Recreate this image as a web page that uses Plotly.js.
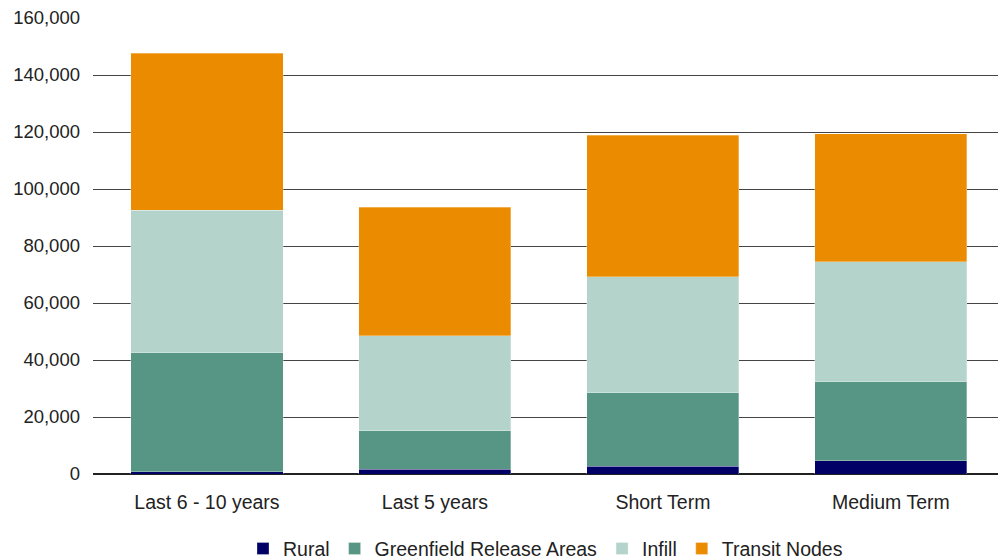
<!DOCTYPE html>
<html>
<head>
<meta charset="utf-8">
<script src="https://cdn.plot.ly/plotly-3.0.1.min.js"></script>
<style>
  html, body { margin: 0; padding: 0; background: #ffffff; }
  #chart { width: 998px; height: 560px; }
</style>
</head>
<body>
<div id="chart"></div>
<script>
// Dwelling supply by period and location type
const periods = ["Last 6 - 10 years", "Last 5 years", "Short Term", "Medium Term"];
const rural = [800, 1750, 2700, 4600];
const greenfield = [41800, 13350, 25800, 27700];
const infill = [50000, 33400, 40700, 42100];
const transitNodes = [55000, 45100, 49700, 45000];

const seriesNames = ["Rural", "Greenfield Release Areas", "Infill", "Transit Nodes"];
const seriesColors = ["#000066", "#579684", "#b4d3ca", "#eb8c00"];
const seriesValues = [rural, greenfield, infill, transitNodes];

const traces = seriesValues.map((vals, i) => ({
  type: "bar",
  name: seriesNames[i],
  x: periods,
  y: vals,
  marker: { color: seriesColors[i], line: { color: "rgba(255,255,255,0.6)", width: 0.5 } },
  hoverinfo: "x+y+name"
}));

const family = "Liberation Sans, Arial, sans-serif";
const textColor = "#222222";
const catFont = { family: family, size: 19.5, color: textColor };
const valueFont = { family: family, size: 18.5, color: textColor };

const layout = {
  width: 998,
  height: 560,
  barmode: "stack",
  bargap: 0.333,
  margin: { l: 93, r: 0, t: 18, b: 86, autoexpand: false },
  paper_bgcolor: "#ffffff",
  plot_bgcolor: "#ffffff",
  font: catFont,
  showlegend: true,
  legend: {
    orientation: "h",
    x: 0.5, xanchor: "center", xref: "paper",
    y: 0.02, yanchor: "middle", yref: "container",
    font: catFont,
    itemwidth: 30,
    traceorder: "normal"
  },
  xaxis: {
    type: "category",
    range: [-0.5, 3.47],
    showgrid: false,
    showline: false,
    ticks: "",
    ticklabelstandoff: 14,
    tickfont: catFont,
    fixedrange: true
  },
  yaxis: {
    range: [0, 160000],
    dtick: 20000,
    tickformat: ",d",
    showgrid: true,
    gridcolor: "#444444",
    gridwidth: 1,
    zeroline: true,
    zerolinecolor: "#222222",
    zerolinewidth: 1.5,
    showline: false,
    ticks: "",
    ticklabelstandoff: 12,
    tickfont: valueFont,
    fixedrange: true
  }
};

Plotly.newPlot("chart", traces, layout, { displayModeBar: false, staticPlot: true });
</script>
</body>
</html>
